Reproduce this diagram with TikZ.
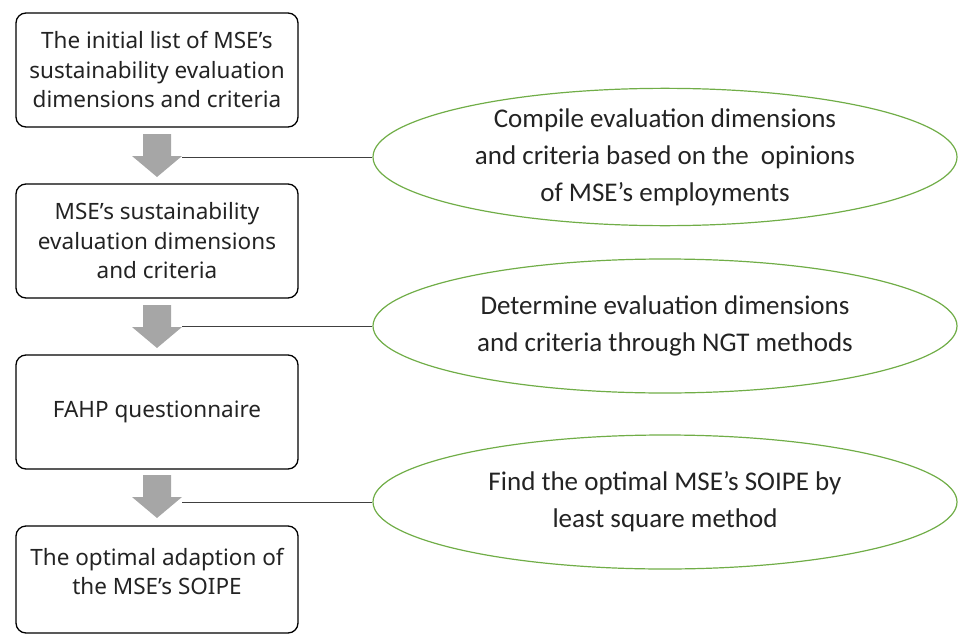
\documentclass[tikz,border=0pt]{standalone}
\usepackage{fontspec}
\setmainfont{Noto Sans}
\newfontfamily\ellfont{Carlito}
\usetikzlibrary{shapes.geometric}
\definecolor{ogreen}{RGB}{112,173,71}
\definecolor{agray}{RGB}{166,166,166}
\definecolor{txt}{RGB}{35,35,35}
\begin{document}
\begin{tikzpicture}[x=1pt,y=-1pt,
  stepbox/.style={draw=black,line width=1.3pt,rounded corners=10pt,minimum width=282pt,
    align=center,text=txt,font=\fontsize{22.5}{29.5}\selectfont,inner sep=0pt},
  oval/.style={ellipse,draw=ogreen,line width=1.2pt,minimum width=584pt,minimum height=134pt,
    align=center,text=txt,font=\ellfont\fontsize{27}{37}\selectfont,inner sep=0pt},
  link/.style={draw=black!75,line width=0.9pt}]
\useasboundingbox (0,0) rectangle (960,634);
% boxes
\node[stepbox,minimum height=114pt] (b1) at (157,70) {The initial list of MSE’s\\sustainability evaluation\\dimensions and criteria};
\node[stepbox,minimum height=114pt] (b2) at (157,241) {MSE’s sustainability\\evaluation dimensions\\and criteria};
\node[stepbox,minimum height=114pt] (b3) at (157,412) {FAHP questionnaire};
\node[stepbox,minimum height=107pt] (b4) at (157,579.5) {The optimal adaption of\\the MSE’s SOIPE\\[-13pt]};
% ellipses
\node[oval] (e1) at (665,157) {Compile evaluation dimensions\\and criteria based on the \ opinions\\of MSE’s employments};
\node[oval] (e2) at (665,326) {Determine evaluation dimensions\\and criteria through NGT methods};
\node[oval] (e3) at (665,502) {Find the optimal MSE’s SOIPE by\\least square method};
% block arrows
\foreach \t/\h/\b/\n in {134/156/177/a1, 305/327/348/a2, 475/497/518/a3}{
  \fill[agray] (143,\t) -- (171,\t) -- (171,\h) -- (182,\h) -- (157,\b) -- (132,\h) -- (143,\h) -- cycle;
  \coordinate (\n) at (182,\h);
}
% connectors
\draw[link] (e1.west -| a1) -- (e1.west);
\draw[link] (e2.west -| a2) -- (e2.west);
\draw[link] (e3.west -| a3) -- (e3.west);
\end{tikzpicture}
\end{document}
